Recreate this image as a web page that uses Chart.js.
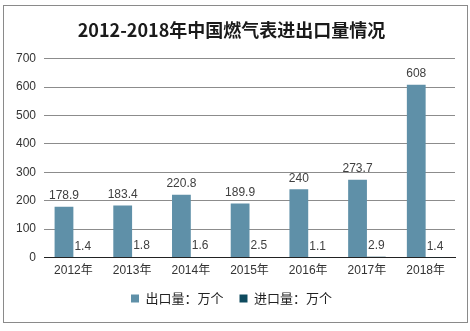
<!DOCTYPE html>
<html>
<head>
<meta charset="utf-8">
<script src="https://cdn.jsdelivr.net/npm/chart.js@4.4.0/dist/chart.umd.min.js"></script>
<style>
  body { margin: 0; background: #fff; }
  .marco { position: absolute; left: 3px; top: 5px; width: 463px; height: 316px; border: 1px solid #8a8a8a; }
  canvas { display: block; }
</style>
</head>
<body>
<div class="marco"><canvas id="grafica" width="463" height="316"></canvas></div>
<script>
// datos
var anios = ['2012年', '2013年', '2014年', '2015年', '2016年', '2017年', '2018年'];
var exportacion = [178.9, 183.4, 220.8, 189.9, 240, 273.7, 608];
var importacion = [1.4, 1.8, 1.6, 2.5, 1.1, 2.9, 1.4];
var nombresSeries = ['出口量：万个', '进口量：万个'];
var ticksY = [0, 100, 200, 300, 400, 500, 600, 700];

var fuente = "'Liberation Sans', 'Noto Sans CJK SC', sans-serif";

// etiquetas sobre las barras
var etiquetas = {
    id: 'etiquetas',
    afterDatasetsDraw: function(chart) {
        var ctx = chart.ctx;
        ctx.save();
        ctx.font = '12px ' + fuente;
        ctx.fillStyle = '#404040';
        ctx.textAlign = 'center';
        ctx.textBaseline = 'bottom';
        chart.data.datasets.forEach(function(ds, i) {
            chart.getDatasetMeta(i).data.forEach(function(barra, j) {
                ctx.fillText(String(ds.data[j]), barra.x, barra.y - 5);
            });
        });
        ctx.restore();
    }
};

// la leyenda: alto fijo y un poco más arriba
var ajusteLeyenda = {
    id: 'ajusteLeyenda',
    beforeLayout: function(chart) {
        var ley = chart.legend;
        if (!ley || ley._ajustada) return;
        ley._ajustada = true;
        var fitOriginal = ley.fit;
        ley.fit = function() {
            fitOriginal.call(this);
            this.height = 38;
        };
        var drawOriginal = ley.draw;
        ley.draw = function() {
            var c = this.ctx;
            c.save();
            c.translate(0, -8);
            drawOriginal.apply(this, arguments);
            c.restore();
        };
    }
};

var ctx = document.getElementById('grafica').getContext('2d');
var miGrafico = new Chart(ctx, {
    type: 'bar',
    data: {
        labels: anios,
        datasets: [{
            label: nombresSeries[0],
            data: exportacion,
            backgroundColor: '#5f90a8'
        }, {
            label: nombresSeries[1],
            data: importacion,
            backgroundColor: '#0e4a5e'
        }]
    },
    options: {
        responsive: false,
        animation: false,
        categoryPercentage: 0.64,
        barPercentage: 1,
        layout: { padding: { left: 4, right: 12, top: 0, bottom: 0 } },
        plugins: {
            title: {
                display: true,
                text: '2012-2018年中国燃气表进出口量情况',
                color: '#1a1a1a',
                font: { family: "'Noto Sans CJK SC', sans-serif", size: 18, weight: 'bold' },
                padding: { top: 13, bottom: 18 }
            },
            legend: {
                position: 'bottom',
                labels: {
                    boxWidth: 8,
                    boxHeight: 8,
                    color: '#222',
                    padding: 16,
                    font: { family: "'Noto Sans CJK SC', sans-serif", size: 13 }
                }
            },
            tooltip: { enabled: false }
        },
        scales: {
            x: {
                grid: { display: false, drawTicks: false },
                border: { color: '#222', width: 1 },
                ticks: { color: '#333', font: { family: fuente, size: 12 }, padding: 6 }
            },
            y: {
                min: ticksY[0],
                max: ticksY[ticksY.length - 1],
                afterBuildTicks: function(eje) {
                    eje.ticks = ticksY.map(function(v) { return { value: v }; });
                },
                ticks: { color: '#333', font: { family: fuente, size: 12 }, padding: 8 },
                grid: { color: '#8c8c8c', drawTicks: false },
                border: { display: false }
            }
        }
    },
    plugins: [etiquetas, ajusteLeyenda]
});
</script>
</body>
</html>
